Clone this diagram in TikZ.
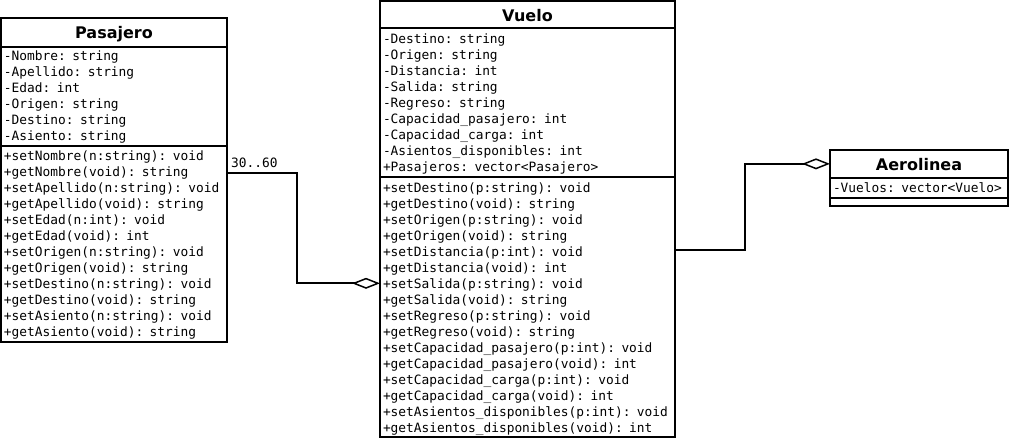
\documentclass[tikz,border=0pt]{standalone}
\usepackage{fontspec}
\setsansfont{DejaVu Sans}
\setmonofont{DejaVu Sans Mono}
\usetikzlibrary{arrows.meta, positioning}

\newcommand{\membertext}{\ttfamily\fontsize{12.85}{16}\selectfont}
\newcommand{\titletext}{\sffamily\bfseries\fontsize{16}{18}\selectfont}
\newcommand{\liststart}{\rule{0pt}{12.5pt}}
\newcommand{\listend}{\rule[-3pt]{0pt}{3pt}}

\begin{document}
\begin{tikzpicture}[x=1pt, y=-1pt]

  % Define styles
  \tikzstyle{class_part} = [rectangle, draw, line width=2pt, outer sep=0pt, inner xsep=3pt, inner ysep=1pt, anchor=north west]
  \tikzstyle{class_title} = [class_part, font=\titletext, align=center, text height=13.3pt, text depth=0pt]
  \tikzstyle{class_list} = [class_part, font=\membertext, align=left]
  \tikzstyle{aggregation} = [draw, line width=2pt, -{Diamond[open, length=28pt, width=11pt, line width=1.5pt]}]

  \useasboundingbox (0, 0) rectangle (1012, 440);

  % Pasajero
  \node[class_title, text width=220pt, minimum height=28.5pt] (pas_title) at (1, 18) {Pasajero};
  \node[class_list, text width=220pt, minimum height=99pt, below=0pt of pas_title] (pas_attr) {%
    \liststart-Nombre: string\\
    -Apellido: string\\
    -Edad: int\\
    -Origen: string\\
    -Destino: string\\
    -Asiento: string\listend};
  \node[class_list, text width=220pt, minimum height=196pt, below=0pt of pas_attr] (pas_meth) {%
    \liststart+setNombre(n:string): void\\
    +getNombre(void): string\\
    +setApellido(n:string): void\\
    +getApellido(void): string\\
    +setEdad(n:int): void\\
    +getEdad(void): int\\
    +setOrigen(n:string): void\\
    +getOrigen(void): string\\
    +setDestino(n:string): void\\
    +getDestino(void): string\\
    +setAsiento(n:string): void\\
    +getAsiento(void): string\listend};

  % Vuelo
  \node[class_title, text width=289pt, minimum height=27.3pt] (vue_title) at (380, 1) {Vuelo};
  \node[class_list, text width=289pt, minimum height=149pt, below=0pt of vue_title] (vue_attr) {%
    \liststart-Destino: string\\
    -Origen: string\\
    -Distancia: int\\
    -Salida: string\\
    -Regreso: string\\
    -Capacidad\_pasajero: int\\
    -Capacidad\_carga: int\\
    -Asientos\_disponibles: int\\
    +Pasajeros: vector<Pasajero>\listend};
  \node[class_list, text width=289pt, minimum height=260pt, below=0pt of vue_attr] (vue_meth) {%
    \liststart+setDestino(p:string): void\\
    +getDestino(void): string\\
    +setOrigen(p:string): void\\
    +getOrigen(void): string\\
    +setDistancia(p:int): void\\
    +getDistancia(void): int\\
    +setSalida(p:string): void\\
    +getSalida(void): string\\
    +setRegreso(p:string): void\\
    +getRegreso(void): string\\
    +setCapacidad\_pasajero(p:int): void\\
    +getCapacidad\_pasajero(void): int\\
    +setCapacidad\_carga(p:int): void\\
    +getCapacidad\_carga(void): int\\
    +setAsientos\_disponibles(p:int): void\\
    +getAsientos\_disponibles(void): int\listend};

  % Aerolinea
  \node[class_title, text width=172pt, minimum height=27.7pt] (aer_title) at (830, 150) {Aerolinea};
  \node[class_list, text width=172pt, minimum height=20.3pt, below=0pt of aer_title] (aer_attr) {\liststart-Vuelos: vector<Vuelo>\listend};
  \node[class_list, text width=172pt, minimum height=7.7pt, below=0pt of aer_attr] (aer_meth) {};

  % Pasajero -- Vuelo
  \coordinate (pas_out) at ([yshift=-27pt]pas_meth.north east);
  \draw[aggregation] (pas_out) -- ++(70, 0) |- ([yshift=-106pt]vue_meth.north west);
  \node[font=\membertext, anchor=base west, inner sep=0pt] (pas_mult) at ([xshift=4pt, yshift=5pt]pas_out) {30..60};

  % Vuelo -- Aerolinea
  \coordinate (vue_out) at ([yshift=-73pt]vue_meth.north east);
  \draw[aggregation] (vue_out) -- ++(70, 0) |- (aer_title.west);

\end{tikzpicture}
\end{document}
